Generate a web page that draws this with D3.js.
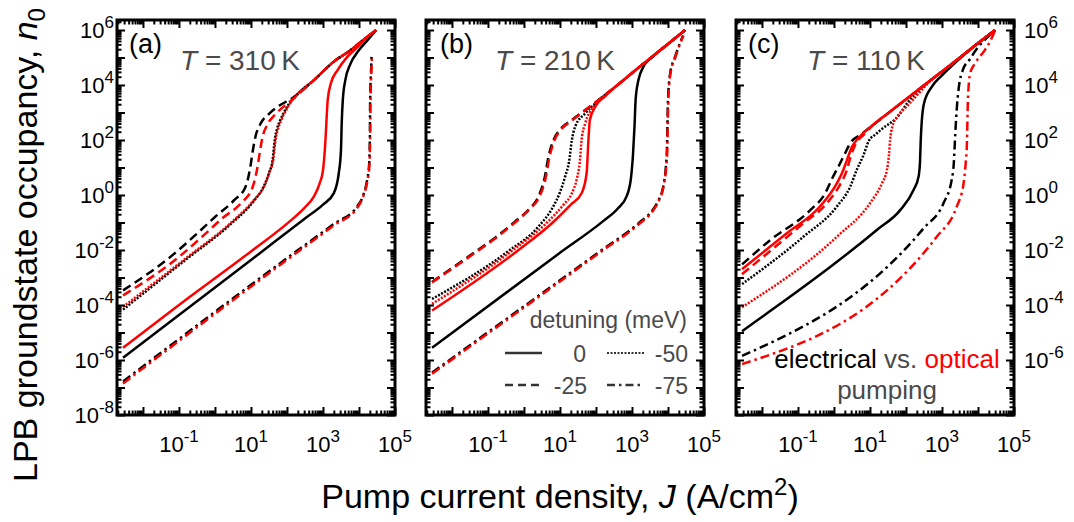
<!DOCTYPE html>
<html>
<head>
<meta charset="utf-8">
<script src="https://cdn.jsdelivr.net/npm/d3@7"></script>
<style>
  body { margin: 0; background: #fff; }
  svg text { font-family: "Liberation Sans", Arial, Helvetica, sans-serif; }
</style>
</head>
<body>
<svg id="chart" width="1074" height="522"></svg>
<script>
// ---- labels and categories ----
const panelLabels = ["(a)", "(b)", "(c)"];
const temperatures = [310, 210, 110];
const detunings = [0, -25, -50, -75];
const pumpings = ["electrical", "optical"];
const xTickExponents = [-1, 1, 3, 5];
const yTickExponentsLeft = [6, 4, 2, 0, -2, -4, -6, -8];
const yTickExponentsRight = [6, 4, 2, 0, -2, -4, -6];
const xDomain = [1.9e-3, 1e5];
const yDomain = [1e-8, 2.31e6];

// ---- curves: [J (A/cm^2), n0] ----
// T = 310 K
const elec310_0 = [[2.8e-3,1.2e-6],[0.1,4.3e-5],[10,4.3e-3],[316,0.141],[1000,0.447],[2000,1.17],[2750,6.3],[3160,43.6],[3310,398],[3550,2820],[4170,1.51e4],[5620,5.37e4],[1e4,1.86e5],[1.78e4,4.47e5],[3.0e4,1e6]];
const opt310_0 = [[2.8e-3,2.8e-6],[0.1,1e-4],[10,8.9e-3],[126,0.117],[316,0.355],[562,0.89],[794,2.5],[1000,7.9],[1120,40],[1200,174],[1350,2820],[1660,1.17e4],[2570,3.55e4],[4790,1.07e5],[8910,2.34e5],[1.58e4,5.0e5],[3.0e4,1e6]];
const elec310_m25 = [[2.8e-3,3.4e-4],[0.059,5.75e-3],[0.324,0.0407],[1.0,0.158],[3.47,0.66],[7.08,2.0],[9.55,10],[11.2,39.8],[13.2,126],[18.6,398],[31.6,891],[53.7,1580],[155,3630],[562,1.51e4],[2000,7.08e4],[5890,1.86e5],[1.26e4,4.17e5],[3.0e4,1e6]];
const opt310_m25 = [[2.8e-3,2.24e-4],[0.1,5.6e-3],[0.5,0.0355],[1.58,0.141],[5.25,0.5],[11.2,2.0],[15.1,10],[17.8,39.8],[20.9,126],[28.2,355],[44.7,794],[70.8,1410],[155,3310],[562,1.51e4],[2000,7.08e4],[5890,1.86e5],[1.26e4,4.17e5],[3.0e4,1e6]];
const elec310_m50 = [[2.8e-3,6.8e-5],[0.174,5.0e-3],[2.51,0.0794],[12.3,0.63],[22.4,2.0],[31.6,6.3],[39.8,18.6],[45.7,100],[52.5,251],[63.1,479],[100,1580],[200,4790],[562,1.51e4],[2000,7.08e4],[5890,1.86e5],[1.26e4,4.17e5],[3.0e4,1e6]];
const opt310_m50 = [[2.8e-3,8.5e-5],[0.174,5.6e-3],[2.51,0.087],[12.3,0.68],[24,2.24],[33.1,7.1],[41.7,20],[47.9,100],[56.2,251],[66.1,447],[105,1580],[200,4790],[562,1.51e4],[2000,7.08e4],[5890,1.86e5],[1.26e4,4.17e5],[3.0e4,1e6]];
const elec310_m75 = [[2.8e-3,1.66e-7],[126,6.3e-3],[2000,0.089],[9120,0.398],[1.32e4,1.0],[1.66e4,3.16],[1.91e4,12.6],[2.0e4,100],[2.04e4,2820],[2.19e4,4.68e4],[2.24e4,1.12e5]];
const opt310_m75 = [[2.8e-3,1.41e-7],[126,5.5e-3],[2000,0.079],[9120,0.355],[1.35e4,1.0],[1.7e4,3.16],[1.95e4,12.6],[2.04e4,100],[2.09e4,2820],[2.24e4,4.68e4],[2.29e4,1.0e5]];

// T = 210 K
const elec210_0 = [[2.8e-3,2.8e-6],[10,7.9e-3],[158,0.112],[398,0.316],[708,0.89],[933,3.98],[1070,31.6],[1175,316],[1260,2820],[1510,1.51e4],[2090,4.68e4],[3550,1e5],[1e4,3.1e5],[3.0e4,1e6]];
const opt210_0 = [[2.8e-3,6.3e-5],[0.708,0.01],[6.31,0.1],[20,0.447],[39.8,1.15],[55,6.3],[61.7,100],[67.6,537],[95.5,1620],[182,3980],[398,1e4],[1585,4.47e4],[6310,1.9e5],[3.0e4,1e6]];
const elec210_m25 = [[2.8e-3,6.9e-4],[0.0288,5.75e-3],[0.158,0.0282],[0.562,0.107],[1.41,0.316],[2.51,0.87],[3.8,4.57],[4.79,24.5],[6.61,100],[9.77,229],[21.4,537],[50.1,1230],[117.5,2820],[398,1e4],[1585,4.47e4],[6310,1.9e5],[3.0e4,1e6]];
const opt210_m25 = [[2.8e-3,6.6e-4],[0.0288,5.4e-3],[0.158,0.0263],[0.562,0.1],[1.48,0.316],[2.69,0.87],[4.07,4.57],[5.13,24.5],[7.08,100],[10.5,229],[22.4,537],[50.1,1200],[117.5,2820],[398,1e4],[1585,4.47e4],[6310,1.9e5],[3.0e4,1e6]];
const elec210_m50 = [[2.8e-3,1.66e-4],[0.316,7.9e-3],[2.51,0.0708],[6.31,0.355],[10,1.26],[14.1,5.0],[17.8,15.8],[21.4,100],[26.3,302],[50.1,933],[95.5,2140],[200,4900],[398,1e4],[1585,4.47e4],[6310,1.9e5],[3.0e4,1e6]];
const opt210_m50 = [[2.8e-3,1.1e-4],[0.5,0.01],[3.98,0.089],[12.6,0.447],[21.4,1.15],[29.5,3.98],[35.5,15.8],[39.8,100],[50.1,398],[85.1,1620],[200,4900],[398,1e4],[1585,4.47e4],[6310,1.9e5],[3.0e4,1e6]];
const elec210_m75 = [[2.8e-3,3.5e-7],[145,0.01],[1510,0.093],[3980,0.316],[5500,0.66],[7590,2.51],[8710,10],[9330,43.6],[1e4,2820],[1.15e4,2.63e4],[1.58e4,1.07e5],[2.14e4,3.31e5],[2.63e4,6.3e5]];
const opt210_m75 = [[2.8e-3,3.16e-7],[145,9.1e-3],[1510,0.085],[3980,0.288],[5620,0.63],[7760,2.51],[8910,10],[9550,43.6],[1.02e4,2820],[1.17e4,2.63e4],[1.62e4,1.07e5],[2.19e4,3.31e5],[2.69e4,6.3e5]];

// T = 110 K
const elec110_0 = [[2.8e-3,1.12e-5],[15.5,0.0537],[69.2,0.282],[162,1.51],[224,4.68],[245,15.8],[257,100],[275,501],[316,2140],[525,8710],[1000,2.24e4],[2510,7.08e4],[1e4,3.31e5],[3.0e4,1e6]];
const opt110_0 = [[2.8e-3,2.0e-3],[0.049,0.0407],[0.407,0.38],[1.2,2.63],[1.82,8.13],[2.29,18.6],[3.16,56.2],[5.01,126],[10,288],[31.6,933],[100,3020],[316,9770],[1000,3.09e4],[3160,1e5],[1e4,3.31e5],[3.0e4,1e6]];
const elec110_m25 = [[2.8e-3,3.0e-3],[0.017,0.0229],[0.219,0.282],[0.562,1.12],[0.891,3.98],[1.41,12.6],[2.0,31.6],[2.82,75.9],[5.89,166],[10,288],[31.6,933],[100,3020],[316,9770],[1000,3.09e4],[3160,1e5],[1e4,3.31e5],[3.0e4,1e6]];
const opt110_m25 = [[2.8e-3,1.32e-3],[0.141,0.0933],[0.631,0.5],[1.58,2.82],[2.29,8.13],[2.88,24.5],[3.98,70.8],[7.08,166],[12.6,363],[31.6,933],[100,3020],[316,9770],[1000,3.09e4],[3160,1e5],[1e4,3.31e5],[3.0e4,1e6]];
const elec110_m50 = [[2.8e-3,5.75e-4],[0.141,0.0302],[1.2,0.38],[2.82,2.0],[4.27,8.13],[6.61,28.2],[9.12,89.1],[14.1,158],[21.4,251],[61.7,759],[117,2510],[251,7080],[631,2.0e4],[1000,3.09e4],[3160,1e5],[1e4,3.31e5],[3.0e4,1e6]];
const opt110_m50 = [[2.8e-3,8.3e-5],[1.2,0.0302],[10,0.5],[21.4,2.63],[29.5,8.13],[33.9,31.6],[36.3,100],[41.7,302],[57.5,708],[105,1660],[200,4170],[398,1.12e4],[1000,3.09e4],[3160,1e5],[1e4,3.31e5],[3.0e4,1e6]];
const elec110_m75 = [[2.8e-3,1.41e-6],[309,0.0617],[1100,0.5],[1860,3.55],[2140,15.8],[2340,174],[2630,2000],[2950,8710],[3800,3.55e4],[5750,8.13e4],[1.02e4,2.45e5],[1.78e4,5.25e5],[3.0e4,1e6]];
const opt110_m75 = [[2.8e-3,7.1e-7],[724,0.0309],[2570,0.38],[3980,2.63],[4570,15.8],[4900,63.1],[5250,2820],[6030,2.63e4],[8320,6.17e4],[1.55e4,1.86e5],[2.24e4,4.17e5],[3.0e4,1e6]];

// curves per panel, ordered like `detunings`
const curvesByPanel = [
  { electrical: [elec310_0, elec310_m25, elec310_m50, elec310_m75],
    optical:    [opt310_0,  opt310_m25,  opt310_m50,  opt310_m75] },
  { electrical: [elec210_0, elec210_m25, elec210_m50, elec210_m75],
    optical:    [opt210_0,  opt210_m25,  opt210_m50,  opt210_m75] },
  { electrical: [elec110_0, elec110_m25, elec110_m50, elec110_m75],
    optical:    [opt110_0,  opt110_m25,  opt110_m50,  opt110_m75] }
];

// ---- layout ----
const panelLeft = [117, 426, 736];
const panelW = 278;
const plotTop = 20, plotBottom = 415;
const pumpColor = { electrical: "#000000", optical: "#ff0000" };
const dashFor = ["none", "9,5", "2,1.5", "9,4,2.5,4"];
const grey = "#4a4a4a";

const svg = d3.select("#chart");

const x = d3.scaleLog().domain(xDomain).range([0, panelW]);
const y = d3.scaleLog().domain(yDomain).range([plotBottom, plotTop]);

const isMajor = v => Math.abs(Math.log10(v) - Math.round(Math.log10(v))) < 1e-9;
const xTickVals = x.ticks(30).filter(v => v >= xDomain[0] && v <= xDomain[1]);
const yTickVals = y.ticks(30).filter(v => v >= yDomain[0] && v <= yDomain[1]);

const line = d3.line()
  .x(d => x(d[0]))
  .y(d => y(d[1]))
  .curve(d3.curveMonotoneX);

function powLabel(sel, exp) {
  sel.append("tspan").text("10");
  sel.append("tspan").attr("font-size", 17).attr("dy", -10).text(String(exp));
}

panelLabels.forEach((lab, p) => {
  const g = svg.append("g").attr("transform", `translate(${panelLeft[p]},0)`);

  // curves: electrical underneath, optical on top
  pumpings.forEach(pump => {
    curvesByPanel[p][pump].forEach((data, i) => {
      g.append("path")
        .datum(data)
        .attr("d", line)
        .attr("fill", "none")
        .attr("stroke", pumpColor[pump])
        .attr("stroke-width", 2.5)
        .attr("stroke-dasharray", dashFor[i])
        .attr("stroke-linejoin", "round");
    });
  });

  // ticks on all four sides, pointing inward
  const tickStyle = s => s.selectAll(".tick line").attr("stroke", "#000").attr("stroke-width", 2);
  const gb = g.append("g").attr("transform", `translate(0,${plotBottom})`)
    .call(d3.axisBottom(x).tickValues(xTickVals).tickFormat("").tickSizeOuter(0));
  gb.selectAll(".tick line").attr("y2", d => isMajor(d) ? -8 : -4.5);
  const gt = g.append("g").attr("transform", `translate(0,${plotTop})`)
    .call(d3.axisTop(x).tickValues(xTickVals).tickFormat("").tickSizeOuter(0));
  gt.selectAll(".tick line").attr("y2", d => isMajor(d) ? 8 : 4.5);
  const gl = g.append("g")
    .call(d3.axisLeft(y).tickValues(yTickVals).tickFormat("").tickSizeOuter(0));
  gl.selectAll(".tick line").attr("x2", d => isMajor(d) ? 8 : 4.5);
  const gr = g.append("g").attr("transform", `translate(${panelW},0)`)
    .call(d3.axisRight(y).tickValues(yTickVals).tickFormat("").tickSizeOuter(0));
  gr.selectAll(".tick line").attr("x2", d => isMajor(d) ? -8 : -4.5);
  [gb, gt, gl, gr].forEach(a => { a.select(".domain").remove(); tickStyle(a); });

  // frame
  g.append("rect")
    .attr("x", 0).attr("y", plotTop)
    .attr("width", panelW).attr("height", plotBottom - plotTop)
    .attr("fill", "none").attr("stroke", "#000").attr("stroke-width", 3);

  // x tick labels
  xTickExponents.forEach(e => {
    const t = g.append("text")
      .attr("x", x(Math.pow(10, e))).attr("y", 452)
      .attr("text-anchor", "middle").attr("font-size", 22).attr("fill", "#000");
    powLabel(t, e);
  });

  // panel letter and temperature
  const letterDx = [12, 14, 12][p];
  const tempDx = [63, 69, 71][p];
  g.append("text").attr("x", letterDx).attr("y", 53)
    .attr("font-size", 27).attr("fill", "#000").text(lab);
  const tt = g.append("text").attr("x", tempDx).attr("y", 70)
    .attr("font-size", 28).attr("fill", grey);
  tt.append("tspan").attr("font-style", "italic").text("T");
  tt.append("tspan").text(` = ${temperatures[p]}\u2009K`);
});

// y tick labels: left of (a), right of (c)
yTickExponentsLeft.forEach(e => {
  const t = svg.append("text")
    .attr("x", panelLeft[0] - 3).attr("y", y(Math.pow(10, e)) + 8)
    .attr("text-anchor", "end").attr("font-size", 22).attr("fill", "#000");
  powLabel(t, e);
});
yTickExponentsRight.forEach(e => {
  const t = svg.append("text")
    .attr("x", panelLeft[2] + panelW + 10).attr("y", y(Math.pow(10, e)) + 8)
    .attr("text-anchor", "start").attr("font-size", 22).attr("fill", "#000");
  powLabel(t, e);
});

// axis titles
const yt = svg.append("text")
  .attr("transform", "translate(37,245) rotate(-90)")
  .attr("text-anchor", "middle").attr("font-size", 34).attr("fill", "#000");
yt.append("tspan").text("LPB groundstate occupancy, ");
yt.append("tspan").attr("font-style", "italic").text("n");
yt.append("tspan").attr("font-size", 24).attr("dy", 8).text("0");

const xt = svg.append("text")
  .attr("x", 560).attr("y", 508)
  .attr("text-anchor", "middle").attr("font-size", 34).attr("fill", "#000");
xt.append("tspan").text("Pump current density, ");
xt.append("tspan").attr("font-style", "italic").text("J");
xt.append("tspan").text(" (A/cm");
xt.append("tspan").attr("font-size", 24).attr("dy", -13).text("2");
xt.append("tspan").attr("dy", 13).text(")");

// detuning legend inside (b)
const leg = svg.append("g");
leg.append("text").attr("x", 687).attr("y", 328).attr("text-anchor", "end")
  .attr("font-size", 23).attr("fill", grey).text("detuning (meV)");
const legendRows = [
  { i: 0, lx: 505, ly: 353, tx: 586 },
  { i: 2, lx: 607, ly: 353, tx: 688 },
  { i: 1, lx: 505, ly: 385, tx: 587 },
  { i: 3, lx: 607, ly: 385, tx: 688 }
];
legendRows.forEach(r => {
  leg.append("line")
    .attr("x1", r.lx).attr("x2", r.lx + 37).attr("y1", r.ly).attr("y2", r.ly)
    .attr("stroke", "#333").attr("stroke-width", r.i === 2 ? 2 : 2.5)
    .attr("stroke-dasharray", r.i === 1 ? "8,5" : r.i === 3 ? "8,4,2.5,4" : dashFor[r.i]);
  leg.append("text").attr("x", r.tx).attr("y", r.ly + 9).attr("text-anchor", "end")
    .attr("font-size", 23).attr("fill", grey).text(String(detunings[r.i]));
});

// pumping annotation inside (c)
const ann = svg.append("text").attr("x", 887).attr("y", 368)
  .attr("text-anchor", "middle").attr("font-size", 26);
ann.append("tspan").attr("fill", "#000").text("electrical");
ann.append("tspan").attr("fill", grey).text(" vs. ");
ann.append("tspan").attr("fill", "#ff0000").text("optical");
svg.append("text").attr("x", 887).attr("y", 399)
  .attr("text-anchor", "middle").attr("font-size", 26).attr("fill", grey).text("pumping");
</script>
</body>
</html>
